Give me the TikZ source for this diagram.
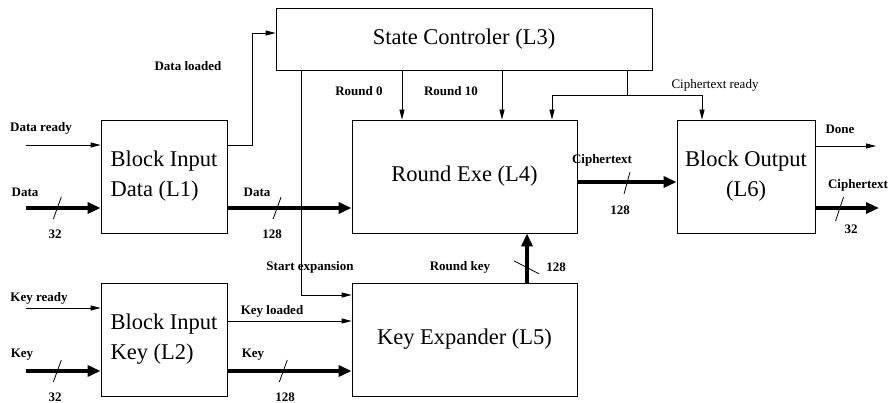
\documentclass[tikz,border=0pt]{standalone}
\usepackage{fontspec}
\setmainfont{Liberation Serif}
\usetikzlibrary{arrows.meta,calc}
\begin{document}
\begin{tikzpicture}[x=1pt,y=-1pt,
  blk/.style={draw,line width=0.8pt,inner sep=0pt,font=\fontsize{22.5}{30}\selectfont},
  lbl/.style={inner sep=0pt,font=\bfseries\fontsize{13}{15}\selectfont},
  lblr/.style={inner sep=0pt,font=\fontsize{13}{15}\selectfont},
  sig/.style={line width=0.8pt,-{Triangle[length=10pt,width=5pt]}},
  wire/.style={line width=0.8pt},
  bus/.style={line width=3.2pt,-{Triangle[length=13pt,width=11pt]}},
  slashl/.style={line width=0.8pt}]
\useasboundingbox (0,0) rectangle (892,403);
% blocks
\node[blk,minimum width=376pt,minimum height=62pt] (SC) at (464,39) {State Controler (L3)};
\node[blk,minimum width=126pt,minimum height=113pt,align=left] (L1) at (164,176.5) {Block Input\\Data (L1)};
\node[blk,minimum width=225pt,minimum height=113pt] (L4) at (464.5,176.5) {Round Exe (L4)};
\node[blk,minimum width=138pt,minimum height=113pt,align=center] (L6) at (746,176.5) {Block Output\\(L6)};
\node[blk,minimum width=126pt,minimum height=113pt,align=left] (L2) at (164,339.5) {Block Input\\Key (L2)};
\node[blk,minimum width=225pt,minimum height=113pt] (L5) at (464.5,339.5) {Key Expander (L5)};
% free ends
\coordinate (dr) at (26,145);
\coordinate (din) at (26,208);
\coordinate (kr) at (26,308);
\coordinate (kin) at (26,371);
\coordinate (done) at (876,146);
\coordinate (cout) at (879,208);
% inputs to L1
\draw[sig] (dr) -- ([yshift=31.5pt]L1.west);
\draw[bus] (din) -- coordinate[pos=0.42] (s1) ([yshift=-31.5pt]L1.west);
\draw[slashl] ($(s1)+(4,-11)$) -- ($(s1)+(-4,11)$);
% inputs to L2
\draw[sig] (kr) -- ([yshift=31.5pt]L2.west);
\draw[bus] (kin) -- coordinate[pos=0.42] (s2) ([yshift=-31.5pt]L2.west);
\draw[slashl] ($(s2)+(4,-11)$) -- ($(s2)+(-4,11)$);
% data loaded
\draw[sig] ([yshift=31.5pt]L1.east) -- ++(25,0) |- ([yshift=6pt]SC.west);
% data L1 -> L4
\draw[bus] ([yshift=-31.5pt]L1.east) -- coordinate[pos=0.4] (s3) ([yshift=-31.5pt]L4.west);
\draw[slashl] ($(s3)+(4,-11)$) -- ($(s3)+(-4,11)$);
% key loaded, key
\draw[sig] ([yshift=18.5pt]L2.east) -- ([yshift=18.5pt]L5.west);
\draw[bus] ([yshift=-31.5pt]L2.east) -- coordinate[pos=0.45] (s4) ([yshift=-31.5pt]L5.west);
\draw[slashl] ($(s4)+(4,-11)$) -- ($(s4)+(-4,11)$);
% start expansion
\draw[sig] ([xshift=-163pt]SC.south) |- ([yshift=44.5pt]L5.west);
% round 0 / round 10
\draw[sig] ([xshift=-62pt]SC.south) -- ([xshift=-62.5pt]L4.north);
\draw[sig] ([xshift=38pt]SC.south) -- ([xshift=37.5pt]L4.north);
% ciphertext ready
\draw[wire] ([xshift=163pt]SC.south) -- ++(0,25) coordinate (cr);
\draw[sig] (cr) -| ([xshift=87.5pt]L4.north);
\draw[sig] (cr) -| ([xshift=-44pt]L6.north);
% round key
\draw[bus] ([xshift=62.5pt]L5.north) -- coordinate[pos=0.3] (s5) ([xshift=62.5pt]L4.south);
\draw[slashl] ($(s5)+(-13,-7)$) -- ($(s5)+(12,6)$);
% ciphertext L4 -> L6
\draw[bus] ([yshift=-5.5pt]L4.east) -- coordinate[pos=0.5] (s6) ([yshift=-5.5pt]L6.west);
\draw[slashl] ($(s6)+(3,-10)$) -- ($(s6)+(-3,12)$);
% outputs
\draw[sig] ([yshift=30.5pt]L6.east) -- (done);
\draw[bus] ([yshift=-31.5pt]L6.east) -- coordinate[pos=0.38] (s7) (cout);
\draw[slashl] ($(s7)+(4,-11)$) -- ($(s7)+(-4,13)$);
% labels
\node[lbl] (t1) at (41,128) {Data ready};
\node[lbl] (t2) at (25,192) {Data};
\node[lbl] (t3) at (55,234) {32};
\node[lbl] (t4) at (188,66) {Data loaded};
\node[lbl] (t5) at (257,192) {Data};
\node[lbl] (t6) at (272,234) {128};
\node[lbl] (t7) at (359,91) {Round 0};
\node[lbl] (t8) at (451,91) {Round 10};
\node[lblr] (t9) at (715,85) {Ciphertext ready};
\node[lbl] (t10) at (840,129) {Done};
\node[lbl] (t11) at (602,160) {Ciphertext};
\node[lbl] (t12) at (620,210) {128};
\node[lbl] (t13) at (858,185) {Ciphertext};
\node[lbl] (t14) at (851,229) {32};
\node[lbl] (t15) at (310,267) {Start expansion};
\node[lbl] (t16) at (460,267) {Round key};
\node[lbl] (t17) at (556,267) {128};
\node[lbl] (t18) at (39,298) {Key ready};
\node[lbl] (t19) at (22,355) {Key};
\node[lbl] (t20) at (55,397) {32};
\node[lbl] (t21) at (272,311) {Key loaded};
\node[lbl] (t22) at (253,355) {Key};
\node[lbl] (t23) at (285,397) {128};
\end{tikzpicture}
\end{document}
